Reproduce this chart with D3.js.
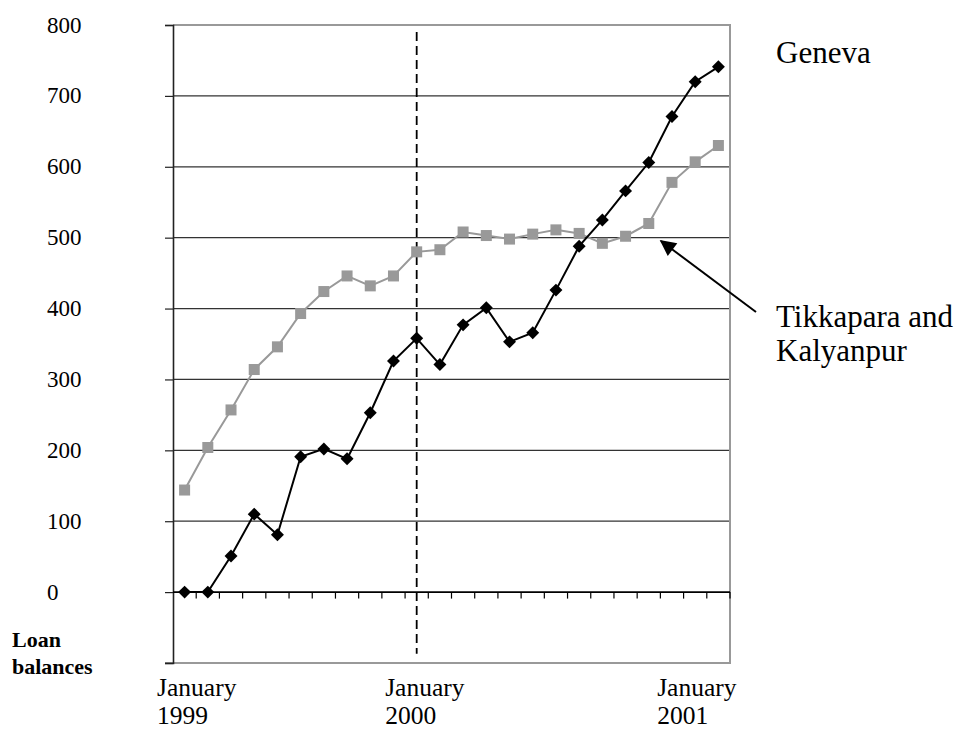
<!DOCTYPE html>
<html>
<head>
<meta charset="utf-8">
<script src="https://cdn.jsdelivr.net/npm/d3@7"></script>
<style>
  html, body { margin: 0; padding: 0; background: #fff; }
  svg { display: block; }
  text { font-family: "Liberation Serif", "Times New Roman", serif; fill: #000; }
</style>
</head>
<body>
<svg id="chart" width="958" height="729"></svg>
<script>
// ---- data ----
const months = d3.range(24); // monthly observations, Jan 1999 .. Dec 2000
const geneva = [0, 0, 51, 110, 81, 191, 202, 188, 253, 326, 358, 321, 377, 401, 353, 366, 426, 488, 525, 566, 606, 671, 720, 741];
const tikkapara = [144, 204, 257, 314, 346, 393, 424, 446, 432, 446, 480, 483, 508, 503, 498, 505, 511, 506, 492, 502, 520, 578, 607, 630];
const yTicks = [0, 100, 200, 300, 400, 500, 600, 700, 800];
const yTickMarks = [-100, 0, 100, 200, 300, 400, 500, 600, 700, 800];
const xLabels = [
  { idx: 0, shift: -27.5, lines: ["January", "1999"] },
  { idx: 10, shift: -31.5, lines: ["January", "2000"] },
  { idx: 22, shift: -38, lines: ["January", "2001"] }
];
const dividerIdx = 10;
const seriesNames = ["Geneva", ["Tikkapara and", "Kalyanpur"]];

(function () {
// ---- layout ----
const svg = d3.select("#chart");
const pL = 173, pR = 730, pT = 25, pB = 663;
const x = d3.scaleBand().domain(months).range([pL, pR]).paddingInner(0).paddingOuter(0);
const cx = i => x(i) + x.bandwidth() / 2;
const y = d3.scaleLinear().domain([-100, 800]).range([pB, pT]);

// gridlines
svg.append("g").selectAll("line").data(yTicks.filter(v => v > 0 && v < 800)).join("line")
  .attr("x1", pL).attr("x2", pR)
  .attr("y1", d => y(d)).attr("y2", d => y(d))
  .attr("stroke", "#333").attr("stroke-width", 1.2);

// frame (top, right, bottom) in gray
svg.append("path")
  .attr("d", `M${pL},${y(800)}H${pR}V${y(-100)}H${pL - 8}`)
  .attr("fill", "none").attr("stroke", "#999").attr("stroke-width", 2);

// y axis via d3
const yAxis = d3.axisLeft(y).tickValues(yTickMarks).tickSize(8).tickFormat("");
const gy = svg.append("g").attr("transform", `translate(${pL},0)`).call(yAxis);
gy.select(".domain").attr("stroke", "#222").attr("stroke-width", 1.6);
gy.selectAll(".tick line").attr("stroke", "#222").attr("stroke-width", 1.2);

// y tick labels (left aligned)
svg.append("g").selectAll("text").data(yTicks).join("text")
  .attr("x", 47).attr("y", d => y(d) + 7.5)
  .attr("font-size", 23)
  .text(d => d);

// x axis at zero with ticks at category boundaries
const boundaries = d3.range(1, 25).map(i => pL + i * x.bandwidth());
svg.append("line").attr("x1", pL).attr("x2", pR).attr("y1", y(0)).attr("y2", y(0))
  .attr("stroke", "#000").attr("stroke-width", 1.6);
svg.append("g").selectAll("line").data(boundaries).join("line")
  .attr("x1", d => d).attr("x2", d => d)
  .attr("y1", y(0)).attr("y2", y(0) + 6.5)
  .attr("stroke", "#000").attr("stroke-width", 1.2);

// dashed divider
svg.append("line")
  .attr("x1", cx(dividerIdx)).attr("x2", cx(dividerIdx))
  .attr("y1", y(790)).attr("y2", y(-87))
  .attr("stroke", "#000").attr("stroke-width", 1.8).attr("stroke-dasharray", "9,5");

// series lines
const line = d3.line().x((d, i) => cx(i)).y(d => y(d));
svg.append("path").datum(tikkapara).attr("d", line)
  .attr("fill", "none").attr("stroke", "#999").attr("stroke-width", 2);
svg.append("g").selectAll("rect").data(tikkapara).join("rect")
  .attr("x", (d, i) => cx(i) - 5.5).attr("y", d => y(d) - 5.5)
  .attr("width", 11).attr("height", 11).attr("fill", "#999");

svg.append("path").datum(geneva).attr("d", line)
  .attr("fill", "none").attr("stroke", "#000").attr("stroke-width", 2);
svg.append("g").selectAll("path").data(geneva).join("path")
  .attr("transform", (d, i) => `translate(${cx(i)},${y(d)}) rotate(45)`)
  .attr("d", d3.symbol().type(d3.symbolSquare).size(84))
  .attr("fill", "#000");

// x labels
xLabels.forEach(l => {
  const t = svg.append("text").attr("font-size", 25.5);
  l.lines.forEach((s, k) => {
    t.append("tspan").attr("x", cx(l.idx) + l.shift).attr("y", 696 + k * 28).text(s);
  });
});

// axis title
const at = svg.append("text").attr("font-size", 22).attr("font-weight", "bold");
at.append("tspan").attr("x", 12).attr("y", 647).text("Loan");
at.append("tspan").attr("x", 12).attr("y", 674).text("balances");

// series labels
svg.append("text").attr("x", 776).attr("y", 63).attr("font-size", 31).text(seriesNames[0]);
const tk = svg.append("text").attr("font-size", 31);
seriesNames[1].forEach((s, k) => tk.append("tspan").attr("x", 776).attr("y", 327 + k * 34).text(s));

// arrow
svg.append("defs").append("marker")
  .attr("id", "ah").attr("viewBox", "0 0 10 10").attr("refX", 9).attr("refY", 5)
  .attr("markerWidth", 9).attr("markerHeight", 8).attr("markerUnits", "strokeWidth")
  .attr("orient", "auto")
  .append("path").attr("d", "M0,0L10,5L0,10Z").attr("fill", "#000");
svg.append("line")
  .attr("x1", 756).attr("y1", 312).attr("x2", 661).attr("y2", 241)
  .attr("stroke", "#000").attr("stroke-width", 2).attr("marker-end", "url(#ah)");
})();
</script>
</body>
</html>
